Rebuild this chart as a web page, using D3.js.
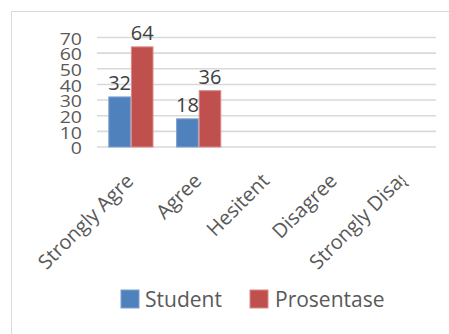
<!DOCTYPE html>
<html>
<head>
<meta charset="utf-8">
<script src="https://cdn.jsdelivr.net/npm/d3@7"></script>
<style>
  html, body { margin: 0; padding: 0; background: #fff; }
  svg { display: block; font-family: "Open Sans", sans-serif; }
</style>
</head>
<body>
<svg id="chart" width="449" height="334"></svg>
<script>
const categories = ["Strongly Agree", "Agree", "Hesitent", "Disagree", "Strongly Disagree"];
const seriesNames = ["Student", "Prosentase"];
const studentValues = [32, 18, null, null, null];
const prosentaseValues = [64, 36, null, null, null];
const yTicks = [0, 10, 20, 30, 40, 50, 60, 70];
const colors = ["#4f81bd", "#c0504d"];
const strokeColors = ["#7f9fd0", "#d98a88"];

const svg = d3.select("#chart");
const W = 449, H = 334;
svg.append("rect").attr("width", W).attr("height", H).attr("fill", "#fff");
// chart area border (extends off page right/bottom)
svg.append("rect").attr("x", 11.5).attr("y", 11.5).attr("width", 460).attr("height", 340)
  .attr("fill", "none").attr("stroke", "#d9d9d9").attr("stroke-width", 1);

const plot = { left: 97, right: 436, top: 37.5, bottom: 147 };
const y = d3.scaleLinear().domain([0, 70]).range([plot.bottom, plot.top]);
const x0 = d3.scaleBand().domain(categories).range([plot.left, plot.right]).padding(0);
const x1 = d3.scaleBand().domain(seriesNames).range([0, x0.bandwidth()]).paddingInner(0).paddingOuter(0.5);

// gridlines
svg.append("g").selectAll("line").data(yTicks).join("line")
  .attr("x1", plot.left).attr("x2", plot.right)
  .attr("y1", d => y(d)).attr("y2", d => y(d))
  .attr("stroke", "#d9d9d9").attr("stroke-width", 1.6);

// y tick labels (vertically compressed, as in the reference)
svg.append("g").selectAll("text").data(yTicks).join("text")
  .attr("transform", d => `translate(82,${y(d)}) scale(1,0.85)`)
  .attr("dy", 8.5)
  .attr("text-anchor", "end")
  .attr("font-size", 19.5)
  .attr("fill", "#595959")
  .text(d => d);

const data = categories.map((c, i) => ({
  cat: c,
  vals: [{ s: seriesNames[0], v: studentValues[i], k: 0 }, { s: seriesNames[1], v: prosentaseValues[i], k: 1 }]
}));

const groups = svg.append("g").selectAll("g").data(data).join("g")
  .attr("transform", d => `translate(${x0(d.cat)},0)`);

groups.selectAll("rect").data(d => d.vals.filter(v => v.v != null)).join("rect")
  .attr("x", d => x1(d.s) + 0.5)
  .attr("width", x1.bandwidth() - 1)
  .attr("y", d => y(d.v))
  .attr("height", d => y(0) - y(d.v))
  .attr("fill", d => colors[d.k])
  .attr("stroke", d => strokeColors[d.k])
  .attr("stroke-width", 1);

groups.selectAll("text").data(d => d.vals.filter(v => v.v != null)).join("text")
  .attr("x", d => x1(d.s) + x1.bandwidth() / 2)
  .attr("y", d => y(d.v) - 6.5)
  .attr("text-anchor", "middle")
  .attr("font-size", 20)
  .attr("fill", "#404040")
  .text(d => d.v);

// x labels rotated -45, truncated
const maxLen = 125;
const defs = svg.append("defs");
defs.append("clipPath").attr("id", "lblclip").append("rect")
  .attr("x", -maxLen).attr("y", -30).attr("width", maxLen).attr("height", 45);

const xl = svg.append("g").selectAll("g").data(categories).join("g")
  .attr("transform", d => `translate(${x0(d) + x0.bandwidth() / 2 + 4},182) rotate(-45)`)
  .attr("clip-path", "url(#lblclip)");
xl.append("text")
  .attr("font-size", 20)
  .attr("fill", "#595959")
  .attr("text-anchor", "end")
  .text(d => d)
  .each(function () {
    const len = this.getComputedTextLength();
    if (len > maxLen) {
      d3.select(this).attr("text-anchor", "start").attr("x", -maxLen);
    }
  });

// legend
const legendItems = [
  { name: seriesNames[0], x: 121, tx: 145 },
  { name: seriesNames[1], x: 250, tx: 275 }
];
const lg = svg.append("g").selectAll("g").data(legendItems).join("g");
lg.append("rect").attr("x", d => d.x).attr("y", 290).attr("width", 18).attr("height", 18)
  .attr("fill", (d, i) => colors[i]).attr("stroke", (d, i) => strokeColors[i]).attr("stroke-width", 1);
lg.append("text").attr("x", d => d.tx).attr("y", 307)
  .attr("font-size", 21).attr("fill", "#595959").text(d => d.name);
</script>
</body>
</html>
